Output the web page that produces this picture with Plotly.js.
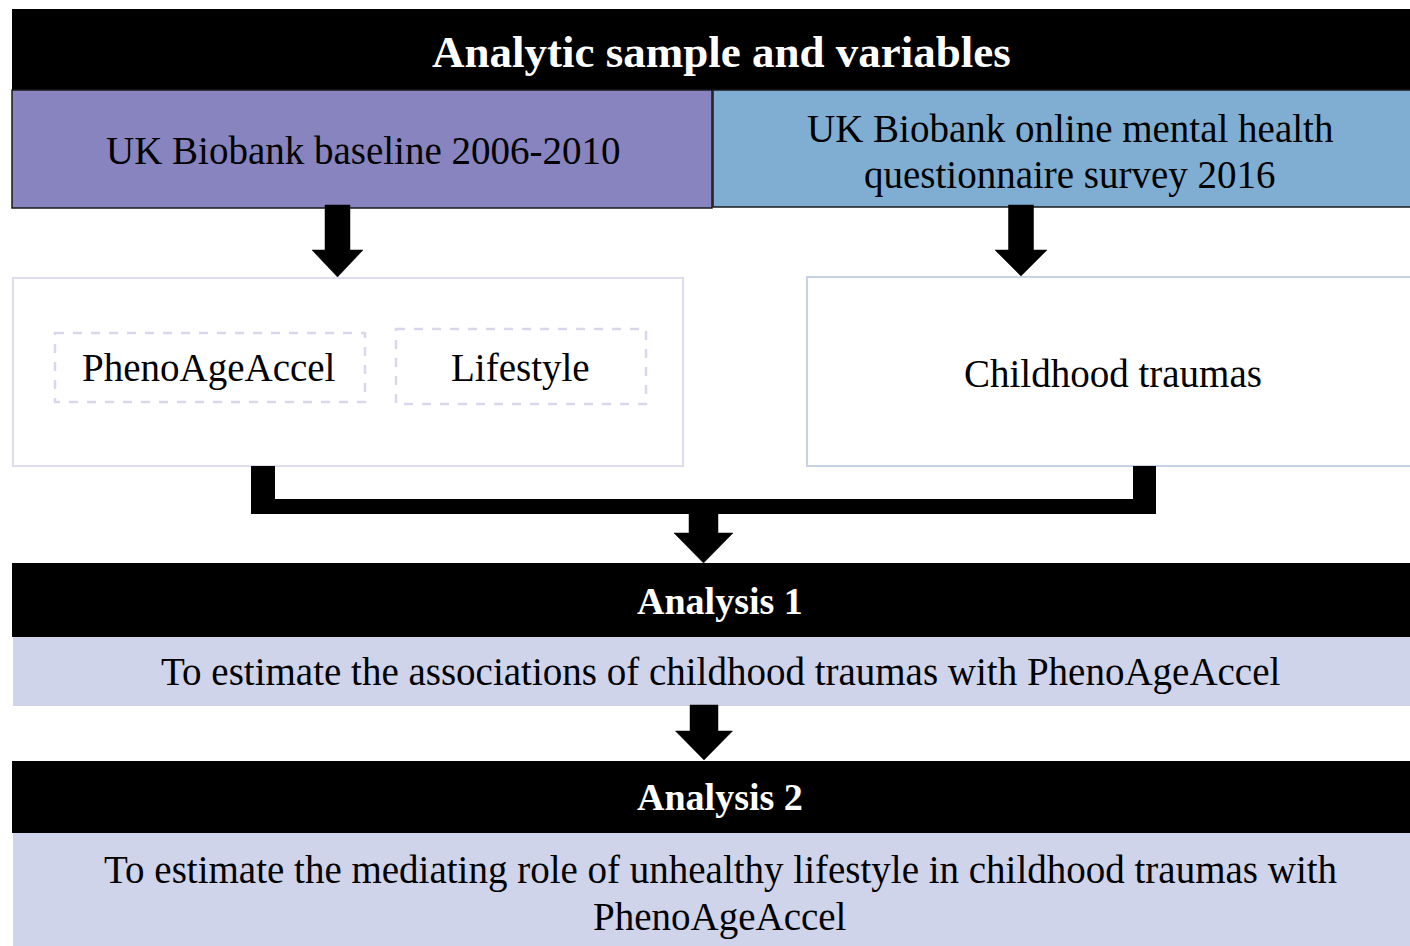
<!DOCTYPE html>
<html>
<head>
<meta charset="utf-8">
<script src="https://cdn.plot.ly/plotly-3.0.1.min.js"></script>
<style>html,body{margin:0;padding:0;background:#fff;}#chart{width:1410px;height:946px;}</style>
</head>
<body>
<div id="chart"></div>
<script>
// ---- Text content ----
var headerTitle = "Analytic sample and variables";
var sourceLabelLeft = ["UK Biobank baseline 2006-2010"];
var sourceLabelRight = ["UK Biobank online mental health", "questionnaire survey 2016"];
var variableLabels = ["PhenoAgeAccel", "Lifestyle"];
var exposureLabel = "Childhood traumas";
var analysisTitles = ["Analysis 1", "Analysis 2"];
var analysis1Lines = ["To estimate the associations of childhood traumas with PhenoAgeAccel"];
var analysis2Lines = ["To estimate the mediating role of unhealthy lifestyle in childhood traumas with", "PhenoAgeAccel"];

// ---- Layout geometry (pixel space) ----
var W = 1410, H = 946;
var FONT = "Liberation Serif, Times New Roman, serif";
var PURPLE = "#8884BF", BLUE = "#7FAED2", LAV = "#CFD4EA";
var BODY = 39, TITLE = 45, SUB = 38, LINE_GAP = 47;

function rect(x0, y0, x1, y1, fill, lineColor, lineWidth, dash) {
  return {type: "rect", xref: "x", yref: "y", x0: x0, y0: y0, x1: x1, y1: y1,
    fillcolor: fill, line: {color: lineColor || "rgba(0,0,0,0)", width: lineWidth || 0, dash: dash || "solid"}, layer: "below"};
}
function downArrow(cx, sh, hh, yTop, yHead, yTip) {
  var p = "M" + (cx - sh) + "," + yTop + " L" + (cx + sh) + "," + yTop + " L" + (cx + sh) + "," + yHead +
    " L" + (cx + hh) + "," + yHead + " L" + cx + "," + yTip + " L" + (cx - hh) + "," + yHead +
    " L" + (cx - sh) + "," + yHead + " Z";
  return {type: "path", xref: "x", yref: "y", path: p, fillcolor: "#000", line: {color: "#000", width: 0.5}, layer: "above"};
}
function poly(pts) {
  var p = "M" + pts.map(function (q) { return q[0] + "," + q[1]; }).join(" L") + " Z";
  return {type: "path", xref: "x", yref: "y", path: p, fillcolor: "#000", line: {color: "#000", width: 0}, layer: "above"};
}

var shapes = [
  // header
  rect(12, 9, W, 90, "#000"),
  // source boxes
  rect(12, 90, 712, 208, PURPLE, "#1a1a1a", 1.5),
  rect(713, 90, W + 2, 207, BLUE, "#1a1a1a", 1.5),
  // white boxes
  rect(13, 278, 683, 466, "#fff", "#DEDCEF", 2),
  rect(807, 277, W + 5, 466, "#fff", "#C8D2E6", 2),
  // dashed boxes
  rect(55, 333, 365, 402, "rgba(0,0,0,0)", "#DAD7EC", 2.5, "dash"),
  rect(396, 329, 646, 404, "rgba(0,0,0,0)", "#DAD7EC", 2.5, "dash"),
  // analysis blocks
  rect(12, 563, W, 637, "#000"),
  rect(13, 637, W, 706, LAV),
  rect(12, 761, W, 833, "#000"),
  rect(13, 833, W, H + 2, LAV),
  // arrows from source boxes
  downArrow(337.5, 12.5, 25.5, 205, 250, 277),
  downArrow(1021, 12.5, 26, 205, 250, 276),
  // connector
  poly([[251, 466], [275, 466], [275, 499], [1133, 499], [1133, 466], [1156, 466], [1156, 514], [251, 514]]),
  downArrow(703.5, 14.5, 29.5, 513, 533, 563),
  downArrow(704, 14, 28.5, 705, 731, 760)
];

function ann(text, x, y, size, color, bold) {
  return {text: bold ? "<b>" + text + "</b>" : text, x: x, y: y, xref: "x", yref: "y",
    showarrow: false, xanchor: "center", yanchor: "middle", align: "center",
    font: {family: FONT, size: size, color: color || "#000"}};
}
function lines(arr, x, yFirst, size) {
  return arr.map(function (t, i) { return ann(t, x, yFirst + i * LINE_GAP, size); });
}

var annotations = [
  ann(headerTitle, 721, 52, TITLE, "#fff", true),
  ann(variableLabels[0], 209, 368, BODY),
  ann(variableLabels[1], 520, 368, BODY),
  ann(exposureLabel, 1113, 373, BODY),
  ann(analysisTitles[0], 720, 601, SUB, "#fff", true),
  ann(analysisTitles[1], 720, 797, SUB, "#fff", true)
].concat(
  lines(sourceLabelLeft, 363, 150, BODY),
  lines(sourceLabelRight, 1070, 128, BODY),
  lines(analysis1Lines, 720, 672, BODY),
  lines(analysis2Lines, 720, 870, BODY)
);

var layout = {
  width: W, height: H,
  margin: {l: 0, r: 0, t: 0, b: 0, pad: 0},
  paper_bgcolor: "#fff", plot_bgcolor: "#fff",
  xaxis: {range: [0, W], visible: false, fixedrange: true},
  yaxis: {range: [H, 0], visible: false, fixedrange: true},
  showlegend: false,
  shapes: shapes,
  annotations: annotations
};

Plotly.newPlot("chart", [], layout, {staticPlot: true, displayModeBar: false});
</script>
</body>
</html>
